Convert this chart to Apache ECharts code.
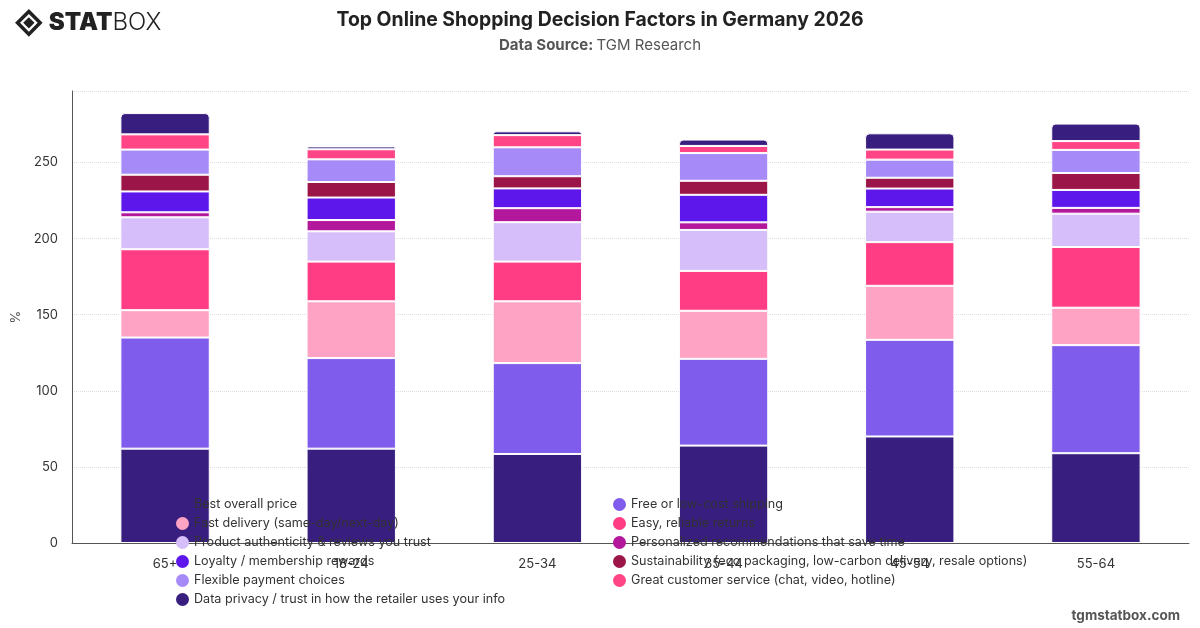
<!DOCTYPE html>
<html>
<head>
<meta charset="utf-8">
<title>Top Online Shopping Decision Factors in Germany 2026</title>
<script src="https://cdn.jsdelivr.net/npm/echarts@6/dist/echarts.min.js"></script>
<style>
  html, body { margin: 0; padding: 0; background: #fff; }
  #chart { width: 1200px; height: 628px; }
</style>
</head>
<body>
<div id="chart"></div>
<script>
// age groups, in the order shown on the x axis
const ageGroups = ['65+', '18-24', '25-34', '35-44', '45-54', '55-64']

// one array per factor, stacked bottom to top
const bestPrice = [62, 62, 58.5, 64, 70, 59]
const freeShipping = [73, 59.5, 59.7, 57, 63.5, 71]
const fastDelivery = [18, 37.3, 40.6, 31.6, 35.5, 24.6]
const easyReturns = [40, 26.1, 26.1, 26.2, 28.7, 39.9]
const authenticity = [21, 19.9, 25.9, 26.9, 20, 21.9]
const personalized = [3.3, 7.4, 9.2, 5, 3, 3.8]
const loyalty = [13.7, 14.8, 13, 18.1, 12.2, 11.8]
const sustainability = [11, 10.2, 8, 9.2, 7.1, 11.1]
const flexiblePayment = [16.5, 14.9, 19, 18.2, 11.9, 15.2]
const customerService = [10, 6.6, 8, 4.7, 6.6, 5.8]
const dataPrivacy = [14, 1.9, 2.5, 4.2, 10.7, 11.5]

const factors = [
  { name: 'Best overall price', data: bestPrice, color: '#381E7F' },
  { name: 'Free or low-cost shipping', data: freeShipping, color: '#7F5CEC' },
  { name: 'Fast delivery (same-day/next-day)', data: fastDelivery, color: '#FFA3C4' },
  { name: 'Easy, reliable returns', data: easyReturns, color: '#FF3D84' },
  { name: 'Product authenticity & reviews you trust', data: authenticity, color: '#D5BEF9' },
  { name: 'Personalized recommendations that save time', data: personalized, color: '#B3179C' },
  { name: 'Loyalty / membership rewards', data: loyalty, color: '#5E17EB' },
  { name: 'Sustainability (eco packaging, low-carbon delivery, resale options)', data: sustainability, color: '#9C1548' },
  { name: 'Flexible payment choices', data: flexiblePayment, color: '#A68BF8' },
  { name: 'Great customer service (chat, video, hotline)', data: customerService, color: '#FF4586' },
  { name: 'Data privacy / trust in how the retailer uses your info', data: dataPrivacy, color: '#381E7F' }
]

const chart = echarts.init(document.getElementById('chart'))

const legendBase = {
  orient: 'vertical',
  top: 493,
  itemWidth: 13,
  itemHeight: 13,
  itemGap: 6,
  icon: 'circle',
  selectedMode: false,
  itemStyle: { borderWidth: 0 },
  textStyle: { fontSize: 12.6, color: '#333', fontFamily: 'Inter, sans-serif' }
}

const option = {
  animation: false,
  textStyle: { fontFamily: 'Inter, sans-serif' },
  title: {
    text: 'Top Online Shopping Decision Factors in Germany 2026',
    left: 'center',
    top: 6,
    textStyle: { fontSize: 19.4, fontWeight: 'bold', color: '#222' },
    subtext: '{b|Data Source:} {n|TGM Research}',
    itemGap: 8,
    subtextStyle: {
      rich: {
        b: { fontSize: 15, fontWeight: 'bold', color: '#555' },
        n: { fontSize: 15, color: '#555' }
      }
    }
  },
  grid: { left: 72, right: 11, top: 91, bottom: 85 },
  legend: [
    Object.assign({}, legendBase, {
      left: 171,
      data: factors.filter((f, i) => i % 2 === 0).map(f => f.name)
    }),
    Object.assign({}, legendBase, {
      left: 608,
      data: factors.filter((f, i) => i % 2 === 1).map(f => f.name)
    })
  ],
  xAxis: {
    type: 'category',
    data: ageGroups,
    axisLine: { lineStyle: { color: '#555', width: 1 } },
    axisTick: { show: false },
    axisLabel: { fontSize: 13, color: '#333', margin: 15 }
  },
  yAxis: {
    type: 'value',
    min: 0,
    max: 297,
    interval: 50,
    name: '%',
    nameLocation: 'middle',
    nameGap: 44,
    nameTextStyle: { fontSize: 13, color: '#555' },
    axisLine: { show: true, lineStyle: { color: '#555', width: 1 } },
    axisTick: { show: false },
    axisLabel: { fontSize: 13, color: '#333', margin: 14, showMaxLabel: false },
    splitLine: { lineStyle: { type: 'dotted', color: '#ddd' } }
  },
  series: factors.map((f, i) => ({
    name: f.name,
    type: 'bar',
    stack: 'total',
    barWidth: '48%',
    data: f.data,
    itemStyle: {
      color: f.color,
      borderColor: '#fff',
      borderWidth: 1,
      borderRadius: i === factors.length - 1 ? [4, 4, 0, 0] : 0
    }
  })),
  graphic: [
    // statbox logo
    {
      type: 'group',
      left: 14,
      top: 8,
      children: [
        {
          type: 'rect',
          shape: { x: -8, y: -8, width: 16, height: 16 },
          x: 14, y: 13, rotation: Math.PI / 4,
          style: { fill: 'none', stroke: '#222', lineWidth: 3.5 }
        },
        {
          type: 'rect',
          shape: { x: -4, y: -4, width: 8, height: 8 },
          x: 14, y: 13, rotation: Math.PI / 4,
          style: { fill: '#222' }
        },
        {
          type: 'text',
          x: 34, y: 1,
          style: {
            text: '{a|STAT}{b|BOX}',
            rich: {
              a: { fontSize: 24, fontWeight: 900, fill: '#222', fontFamily: 'Inter, sans-serif' },
              b: { fontSize: 24, fontWeight: 300, fill: '#222', fontFamily: 'Inter, sans-serif' }
            }
          }
        }
      ]
    },
    {
      type: 'text',
      right: 20,
      bottom: 5,
      style: {
        text: 'tgmstatbox.com',
        fontSize: 13.5,
        fontWeight: 'bold',
        fill: '#555',
        fontFamily: 'Inter, sans-serif'
      }
    }
  ]
}

chart.setOption(option)
</script>
</body>
</html>
